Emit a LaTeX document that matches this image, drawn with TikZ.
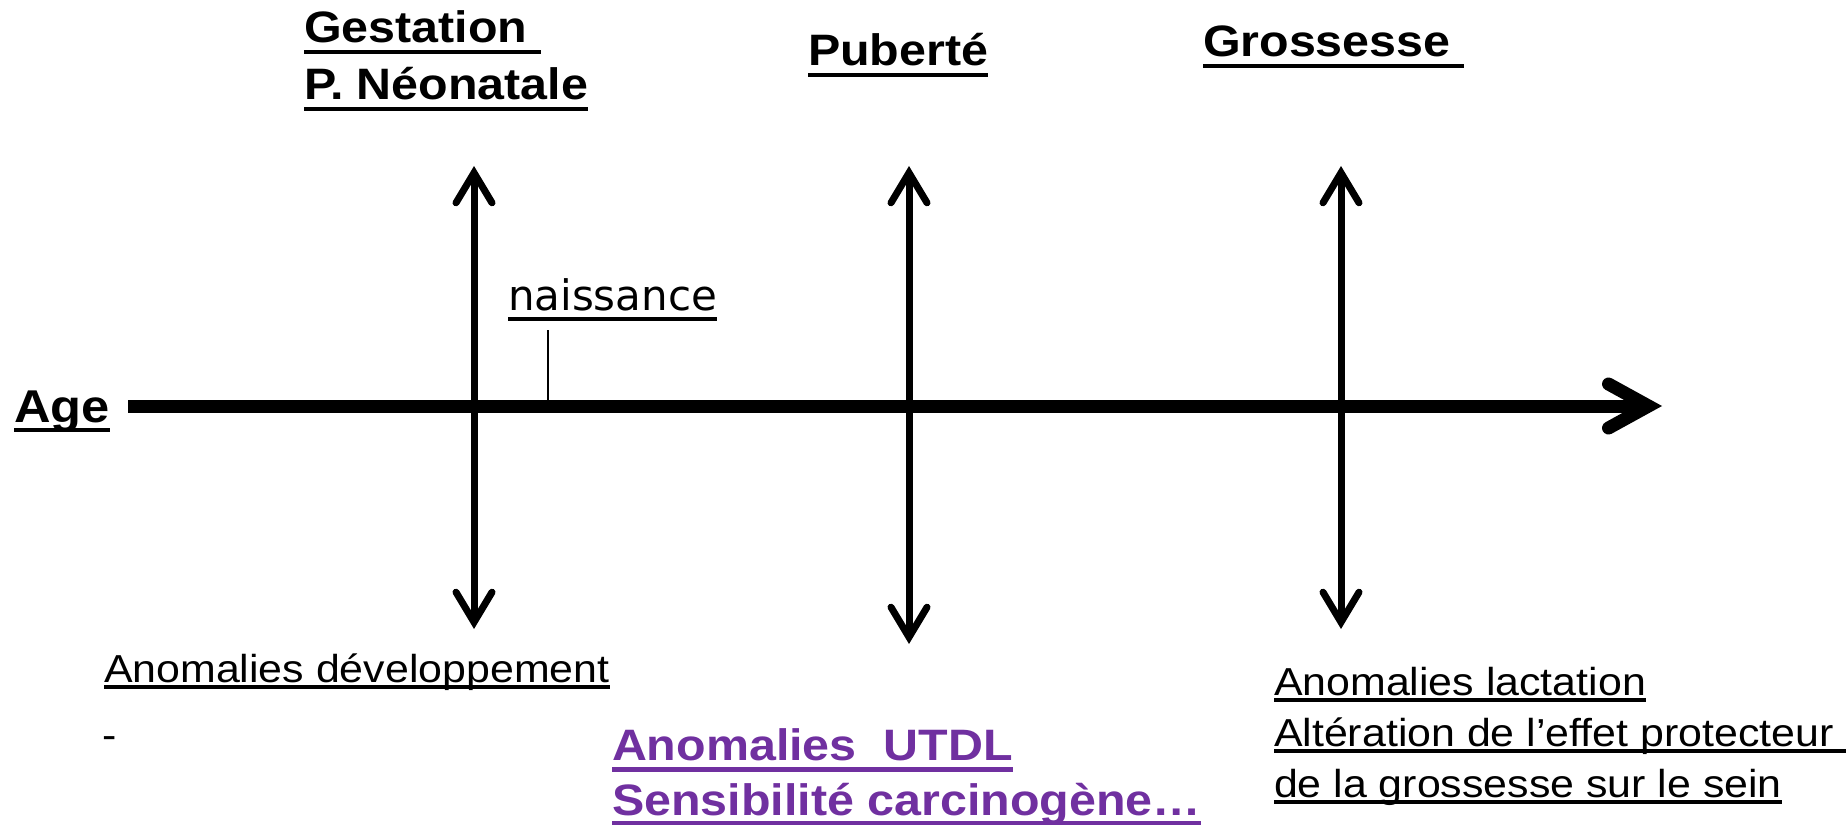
\documentclass[tikz,border=0pt]{standalone}
\usepackage{fontspec}
\setmainfont{Liberation Sans}[FakeStretch=1.1]
\newfontfamily\handfont{DejaVu Sans}
\usetikzlibrary{arrows.meta}
\definecolor{ppurple}{HTML}{7030A0}
\newcommand\myul[3]{\leavevmode\setbox0\hbox{#3}\rlap{\rule[-#1]{\wd0}{#2}}\box0}
\begin{document}
\begin{tikzpicture}[x=1pt,y=-1pt,
  txt/.style={anchor=base west, inner sep=0pt, outer sep=0pt},
  boldtxt/.style={txt, font=\fontsize{44}{52}\selectfont\bfseries},
  regtxt/.style={txt, font=\fontsize{39}{46}\selectfont},
  handtxt/.style={txt, font=\handfont\fontsize{42}{50}\selectfont},
  varrow/.style={line width=7pt, {Straight Barb[length=30pt,width=36pt,line cap=round,line join=miter]}-{Straight Barb[length=30pt,width=36pt,line cap=round,line join=miter]}},
  axisline/.style={line width=13pt, -{Straight Barb[length=40pt,width=44pt,line cap=round,line join=miter]}},
  tickline/.style={line width=2pt}]
\useasboundingbox (0,0) rectangle (1846,826);

% headings
\node[boldtxt] (gest) at (304,43) {\myul{11pt}{4pt}{Gestation\ }};
\node[boldtxt] (neo) at (304,100) {\myul{11pt}{4pt}{P. Néonatale}};
\node[boldtxt] (pub) at (808,66) {\myul{11pt}{4pt}{Puberté}};
\node[boldtxt] (gros) at (1203,57) {\myul{11pt}{4pt}{Grossesse\ }};
\node[boldtxt, font=\fontsize{46}{54}\selectfont\bfseries] (age) at (14,422) {\myul{10pt}{4pt}{Age}};
\node[handtxt] (nais) at (508,310) {\myul{11pt}{4pt}{naissance}};

% axis
\coordinate (ax0) at (128,406);
\coordinate (ax1) at (1662,406);
\draw[axisline] (ax0) -- (ax1);

% naissance tick
\coordinate (tk0) at (548,330);
\coordinate (tk1) at (548,402);
\draw[tickline] (tk0) -- (tk1);

% vertical double arrows
\coordinate (v1t) at (474,166);
\coordinate (v1b) at (474,629);
\coordinate (v2t) at (909,166);
\coordinate (v2b) at (909,644);
\coordinate (v3t) at (1341,166);
\coordinate (v3b) at (1341,629);
\draw[varrow] (v1b) -- (v1t);
\draw[varrow] (v2b) -- (v2t);
\draw[varrow] (v3b) -- (v3t);

% bottom texts
\node[regtxt] (dev) at (104,682) {\myul{7pt}{4pt}{Anomalies développement}};
\node[regtxt] (dash) at (102,748) {-};
\node[boldtxt, text=ppurple] (utdl) at (612,760) {\myul{12pt}{5pt}{Anomalies\ \ UTDL}};
\node[boldtxt, text=ppurple] (sens) at (612,815) {\myul{10pt}{4pt}{Sensibilité carcinogène…}};
\node[regtxt] (lact) at (1274,695) {\myul{7pt}{4pt}{Anomalies lactation}};
\node[regtxt] (alt) at (1274,746) {\myul{7pt}{4pt}{Altération de l’effet protecteur\ }};
\node[regtxt] (sein) at (1274,797) {\myul{7pt}{4pt}{de la grossesse sur le sein}};
\end{tikzpicture}
\end{document}
